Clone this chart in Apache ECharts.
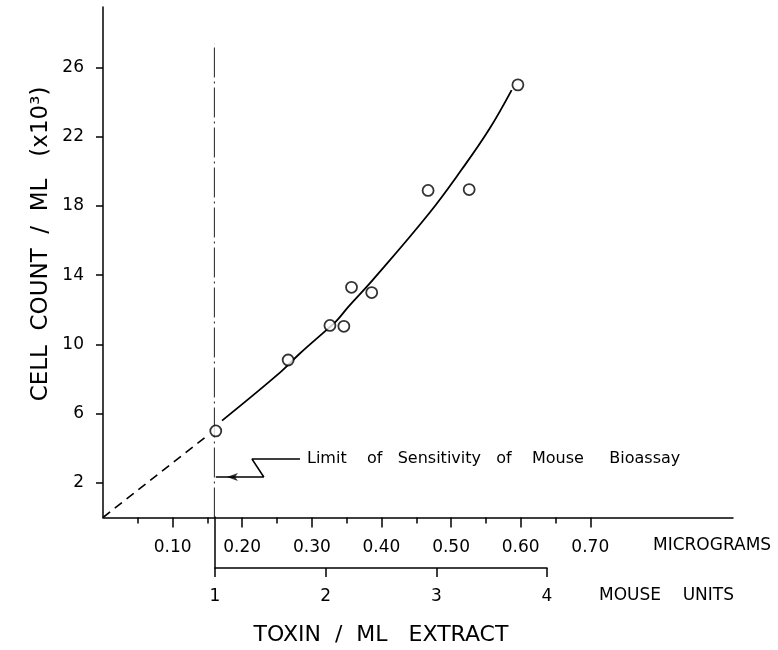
<!DOCTYPE html>
<html><head><meta charset="utf-8">
<script src="https://cdn.jsdelivr.net/npm/echarts@6/dist/echarts.min.js"></script>
<style>html,body{margin:0;padding:0;background:#fff}#c{width:778px;height:650px}</style>
</head><body><div id="c"></div>
<script>
// ---- data ----
const micrograms = [0.162, 0.266, 0.326, 0.346, 0.357, 0.386, 0.467, 0.526, 0.596];
const cellCount  = [5.0, 9.1, 11.1, 11.05, 13.3, 13.0, 18.9, 18.95, 25.0];
const curveX = [0.171, 0.255, 0.282, 0.32, 0.334, 0.353, 0.387, 0.468, 0.516, 0.555, 0.587];
const curveY = [5.6, 8.4, 9.45, 10.8, 11.3, 12.2, 13.7, 17.55, 20.15, 22.45, 24.7];
const extrapX = [0, 0.149];
const extrapY = [0, 4.7];
const limitX = 0.16;
const limitY = [0, 27.4];
const xTickLabels = [0.1, 0.2, 0.3, 0.4, 0.5, 0.6, 0.7];
const xMinorTicks = [0.05, 0.15, 0.25, 0.35, 0.45, 0.55, 0.65];
const yTickLabels = [2, 6, 10, 14, 18, 22, 26];
const mouseUnitTicks = [1, 2, 3, 4];
const leaderX = [0.283, 0.214, 0.231, 0.162];
const leaderY = [3.38, 3.38, 2.34, 2.34];
const arrowPoint = [0.178, 2.34];
const noteText = 'Limit    of   Sensitivity   of    Mouse     Bioassay';
const xUnitName = 'MICROGRAMS';
const mouseUnitName = 'MOUSE    UNITS';
const xTitle = 'TOXIN  /  ML   EXTRACT';
const yTitle = 'CELL  COUNT  /  ML   (x10³)';

const ink = '#000';
const font = 'DejaVu Sans';
const zip = (a, b) => a.map((v, i) => [v, b[i]]);

const chart = echarts.init(document.getElementById('c'), null, {renderer: 'canvas'});
chart.setOption({
  animation: false,
  backgroundColor: '#fff',
  grid: [
    {left: 103, top: 7, width: 630, height: 510.5, containLabel: false, outerBoundsMode: 'none'},
    {left: 215, top: 517, width: 332, height: 51, containLabel: false, outerBoundsMode: 'none'}
  ],
  xAxis: [
    {type: 'value', gridIndex: 0, position: 'bottom', min: 0, max: 0.905, splitLine: {show: false},
     axisLine: {lineStyle: {color: ink, width: 1.5}},
     axisTick: {show: true, customValues: xTickLabels, length: 10, lineStyle: {color: ink, width: 1.5}},
     axisLabel: {customValues: xTickLabels, formatter: v => v.toFixed(2), margin: 22,
                 fontFamily: font, fontSize: 17, color: ink}},
    {type: 'value', gridIndex: 0, position: 'bottom', offset: 0, min: 0, max: 0.905, splitLine: {show: false},
     axisLine: {show: false},
     axisTick: {show: true, customValues: xMinorTicks, length: 6, lineStyle: {color: ink, width: 1.5}},
     axisLabel: {show: false}},
    {type: 'value', gridIndex: 1, min: 1, max: 4, interval: 1, position: 'bottom', splitLine: {show: false},
     axisLine: {lineStyle: {color: ink, width: 1.5}},
     axisTick: {show: true, customValues: mouseUnitTicks, length: 9, lineStyle: {color: ink, width: 1.5}},
     axisLabel: {customValues: mouseUnitTicks, margin: 20, fontFamily: font, fontSize: 17, color: ink}}
  ],
  yAxis: [
    {type: 'value', gridIndex: 0, min: 0, max: 29.5, splitLine: {show: false},
     axisLine: {lineStyle: {color: ink, width: 1.5}},
     axisTick: {show: true, customValues: yTickLabels, length: 7, lineStyle: {color: ink, width: 1.5}},
     axisLabel: {customValues: yTickLabels, margin: 19, fontFamily: font, fontSize: 17, color: ink}},
    {type: 'value', gridIndex: 1, min: 0, max: 1, position: 'left', splitLine: {show: false},
     axisLine: {show: true, lineStyle: {color: ink, width: 1.5}},
     axisTick: {show: false}, axisLabel: {show: false}}
  ],
  series: [
    {type: 'line', xAxisIndex: 0, yAxisIndex: 0, data: zip([limitX, limitX], limitY),
     symbol: 'none', lineStyle: {color: '#222', width: 1, type: [30, 4, 2, 4]}, z: 1},
    {type: 'line', xAxisIndex: 0, yAxisIndex: 0, data: zip(extrapX, extrapY),
     symbol: 'none', lineStyle: {color: ink, width: 1.6, type: [9, 6]}, z: 2},
    {type: 'line', xAxisIndex: 0, yAxisIndex: 0, data: zip(curveX, curveY), smooth: 0.4,
     symbol: 'none', lineStyle: {color: ink, width: 1.8}, z: 2},
    {type: 'scatter', xAxisIndex: 0, yAxisIndex: 0, data: zip(micrograms, cellCount),
     symbol: 'circle', symbolSize: 11,
     itemStyle: {color: '#fff', borderColor: ink, borderWidth: 1.8}, z: 5},
    {type: 'line', xAxisIndex: 0, yAxisIndex: 0, data: zip(leaderX, leaderY),
     symbol: 'none', lineStyle: {color: ink, width: 1.5}, z: 3},
    {type: 'scatter', xAxisIndex: 0, yAxisIndex: 0, data: [arrowPoint],
     symbol: 'arrow', symbolSize: [6, 11], symbolRotate: 90,
     itemStyle: {color: ink}, z: 4},
    {type: 'scatter', xAxisIndex: 0, yAxisIndex: 0, data: [[leaderX[0], leaderY[0]]],
     symbolSize: 0, itemStyle: {opacity: 1},
     label: {show: true, position: 'right', distance: 7, formatter: noteText,
             fontFamily: font, fontSize: 16, color: ink, opacity: 1}, z: 4}
  ],
  graphic: [
    {type: 'text', left: 653, top: 537,
     style: {text: xUnitName, fontFamily: font, fontSize: 17, fill: ink}},
    {type: 'text', left: 599, top: 587,
     style: {text: mouseUnitName, fontFamily: font, fontSize: 17, fill: ink}},
    {type: 'text', x: 381, y: 635,
     style: {text: xTitle, fontFamily: font, fontSize: 22, fill: ink, align: 'center', verticalAlign: 'middle'}},
    {type: 'text', x: 41, y: 244, rotation: Math.PI / 2,
     style: {text: yTitle, fontFamily: font, fontSize: 23, fill: ink, align: 'center', verticalAlign: 'middle'}}
  ]
});
</script>
</body></html>
